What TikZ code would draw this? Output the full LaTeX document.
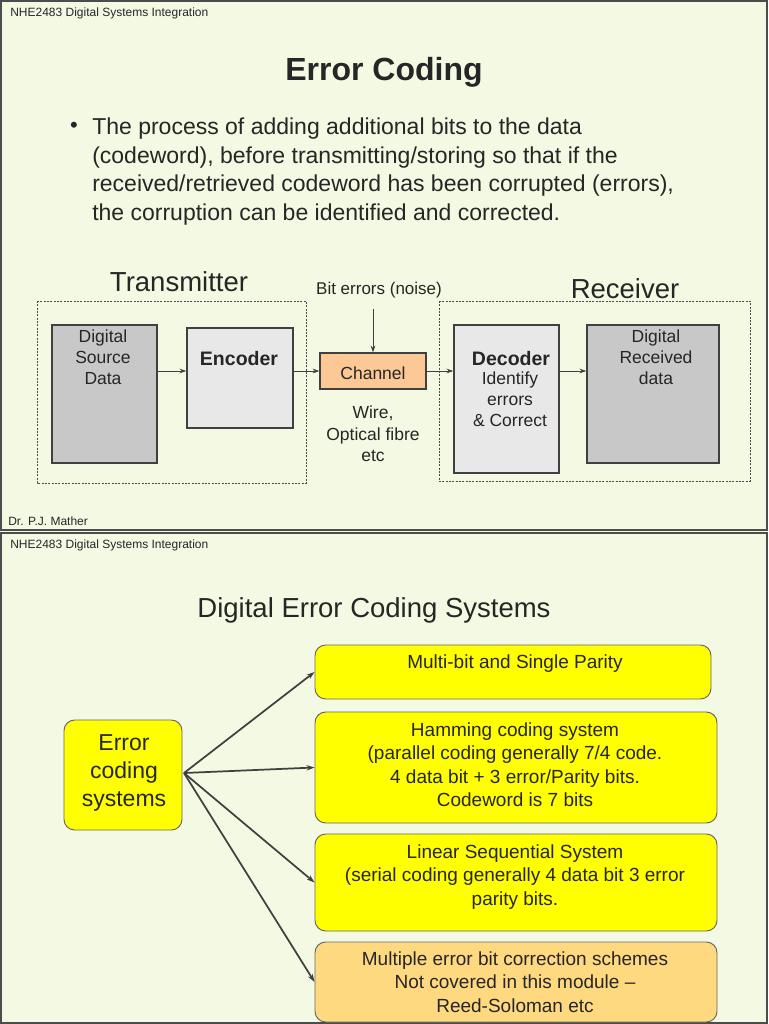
\documentclass[tikz,border=0pt]{standalone}
\usepackage{fontspec}
\setmainfont{Liberation Sans}
\usetikzlibrary{arrows.meta}
\newcommand{\px}[2]{\fontsize{\dimexpr#1pt*3/4\relax}{\dimexpr#2pt*3/4\relax}\selectfont}
\definecolor{bg}{HTML}{F3F9E2}
\definecolor{gbox}{HTML}{C8C8C8}
\definecolor{lbox}{HTML}{E8E8E8}
\definecolor{chan}{HTML}{FBC896}
\definecolor{yel}{HTML}{FFFF00}
\definecolor{lor}{HTML}{FFD980}
\begin{document}
\begin{tikzpicture}[x=0.75pt,y=-0.75pt,
  txt/.style={inner sep=0pt,align=center,text=black!85},
  blk/.style={draw=black!75,line width=1.2pt,inner sep=0pt},
  arr/.style={-{Stealth[length=5pt,width=3.5pt]},draw=black!75,line width=0.6pt},
  arr2/.style={-{Stealth[length=6pt,width=4pt]},draw=black!75,line width=1.3pt},
  dbox/.style={draw=black!70,dash pattern=on 1.5pt off 1pt,line width=0.7pt},
  ybox/.style={draw=black!60,rounded corners=8pt,line width=0.7pt,inner sep=0pt},
  f16/.style={font=\px{17.5}{21}},
  f17/.style={font=\px{19}{23.5}}]
\useasboundingbox (0,0) rectangle (768,1024);
\fill[bg] (0,0) rectangle (768,1024);
\draw[black!70,line width=0.8pt] (1,1) rectangle (767,530);
\draw[black!70,line width=0.8pt] (1,533) rectangle (767,1023);
% slide 1
\node[txt,anchor=west,font=\px{12}{13}] (h1) at (10,13) {NHE2483 Digital Systems Integration};
\node[txt,font=\px{32}{38}\bfseries] (t1) at (384,72) {Error Coding};
\node[txt,font=\px{22}{25}] (bul) at (74,127) {•};
\node[txt,anchor=north west,align=left,font=\px{23}{28.5}] (para) at (92,118) {The process of adding additional bits to the data\\(codeword), before transmitting/storing so that if the\\received/retrieved codeword has been corrupted (errors),\\the corruption can be identified and corrected.};
\node[txt,font=\px{27.5}{30}] (tx) at (179,282) {Transmitter};
\node[txt,font=\px{17}{18}] (be) at (379,290) {Bit errors (noise)};
\node[txt,font=\px{27.5}{30}] (rx) at (625,289) {Receiver};
\draw[dbox] (37,301) rectangle (306,483);
\draw[dbox] (439,301) rectangle (750,481);
\node[blk,fill=gbox,minimum width=78.75pt,minimum height=103.5pt] (src) at (104.5,394) {};
\node[blk,fill=lbox,minimum width=79.5pt,minimum height=75pt] (enc) at (240,378) {};
\node[blk,fill=chan,minimum width=79.5pt,minimum height=27pt,line width=1pt] (chan) at (373,371) {};
\node[blk,fill=lbox,minimum width=78.75pt,minimum height=111pt] (dec) at (506.5,399) {};
\node[blk,fill=gbox,minimum width=99pt,minimum height=103.5pt] (rcv) at (653,394) {};
\node[txt,f16,anchor=north] (srct) at (103,330) {Digital\\Source\\Data};
\node[txt,font=\px{19.5}{21}\bfseries] (enct) at (239,359) {Encoder};
\node[txt,f16] (chant) at (373,373) {Channel};
\node[txt,font=\px{19.5}{21}\bfseries] (dect) at (511,359) {Decoder};
\node[txt,f16,anchor=north] (dect2) at (510,372) {Identify\\errors\\\& Correct};
\node[txt,f16,anchor=north] (rcvt) at (656,330) {Digital\\Received\\data};
\node[txt,anchor=north,font=\px{17.5}{21.5}] (wire) at (373,406) {Wire,\\Optical fibre\\etc};
\coordinate (noise) at (373,309);
\draw[arr] (noise) -- (chan.north);
\draw[arr] (src.east |- chan) -- (enc.west |- chan);
\draw[arr] (enc.east |- chan) -- (chan.west);
\draw[arr] (chan.east) -- (dec.west |- chan);
\draw[arr] (dec.east |- chan) -- (rcv.west |- chan);
\node[txt,anchor=west,font=\px{12}{13}] (auth) at (8,521) {Dr. P.J. Mather};
% slide 2
\node[txt,anchor=west,font=\px{12}{13}] (h2) at (10,545) {NHE2483 Digital Systems Integration};
\node[txt,font=\px{27.5}{30}] (t2) at (374,610) {Digital Error Coding Systems};
\node[ybox,fill=yel,minimum width=88.5pt,minimum height=82.5pt] (ec) at (123,775) {};
\node[txt,font=\px{23}{28}] (ect) at (124,773) {Error\\coding\\systems};
\node[ybox,fill=yel,minimum width=297pt,minimum height=40.5pt] (b1) at (513,672) {};
\node[ybox,fill=yel,minimum width=301.5pt,minimum height=83.25pt] (b2) at (516,767.5) {};
\node[ybox,fill=yel,minimum width=301.5pt,minimum height=72.75pt] (b3) at (516,882.5) {};
\node[ybox,fill=lor,minimum width=301.5pt,minimum height=60pt] (b4) at (516,982) {};
\node[txt,f17] (b1t) at (515,664) {Multi-bit and Single Parity};
\node[txt,f17,anchor=north] (b2t) at (515,722) {Hamming coding system\\(parallel coding generally 7/4 code.\\4 data bit + 3 error/Parity bits.\\Codeword is 7 bits};
\node[txt,f17,anchor=north] (b3t) at (515,844) {Linear Sequential System\\(serial coding generally 4 data bit 3 error\\parity bits.};
\node[txt,f17,anchor=north] (b4t) at (515,951) {Multiple error bit correction schemes\\Not covered in this module --\\Reed-Soloman etc};
\coordinate (src2) at (184,773);
\draw[arr2] (src2) -- (b1.west);
\draw[arr2] (src2) -- (b2.west);
\draw[arr2] (src2) -- (b3.west);
\draw[arr2] (src2) -- (b4.west);
\end{tikzpicture}
\end{document}
